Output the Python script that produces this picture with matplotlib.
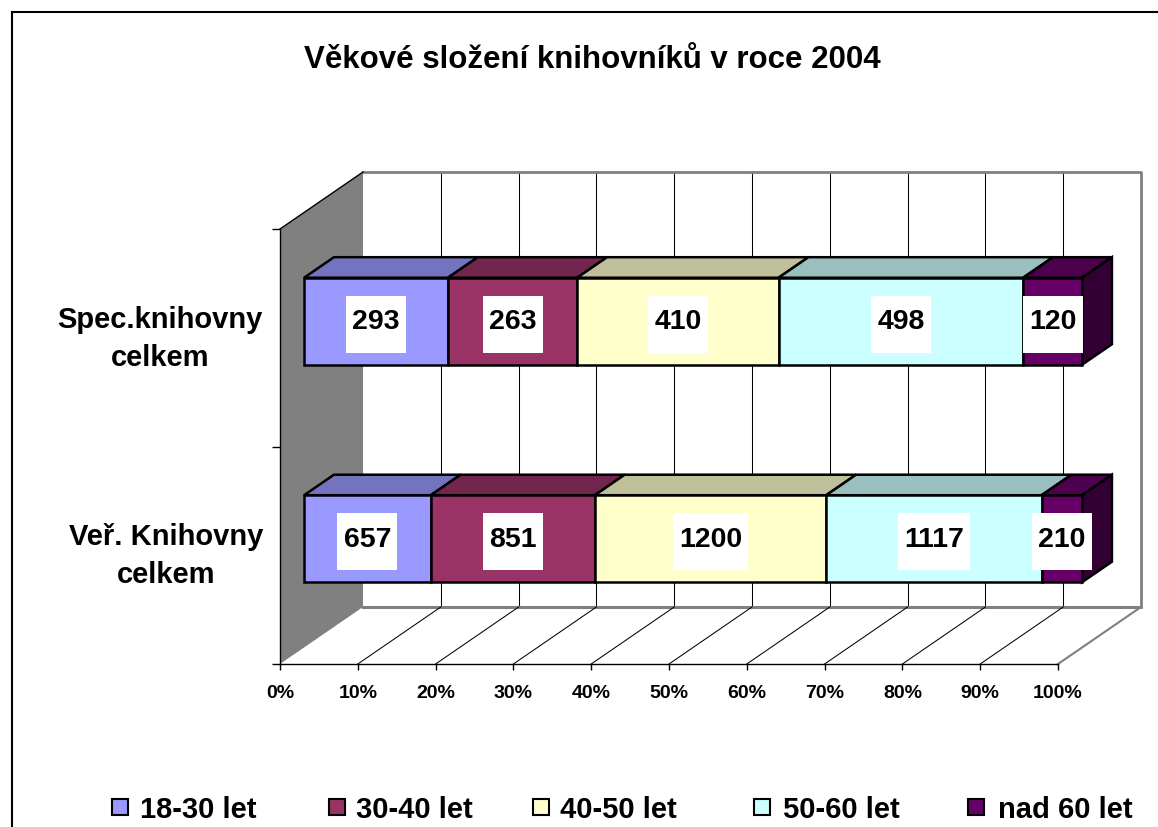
import numpy as np
import matplotlib
matplotlib.use("Agg")
import matplotlib.pyplot as plt
from matplotlib.colors import to_rgb
from matplotlib.patches import Polygon, Rectangle
from matplotlib.path import Path
from matplotlib.lines import Line2D

# data
title = "Věkové složení knihovníků v roce 2004"
categories = ["Veř. Knihovny\ncelkem", "Spec.knihovny\ncelkem"]
age_groups = ["18-30 let", "30-40 let", "40-50 let", "50-60 let", "nad 60 let"]
ver_values = [657, 851, 1200, 1117, 210]
spec_values = [293, 263, 410, 498, 120]
x_ticks = list(range(0, 101, 10))
x_tick_labels = [f"{t}%" for t in x_ticks]

front_colors = ["#9999FF", "#993366", "#FFFFCC", "#CCFFFF", "#660066"]

plt.rcParams["font.family"] = ["Liberation Sans", "DejaVu Sans"]
plt.rcParams["font.weight"] = "bold"

W, H = 1158, 828
PX_PCT = 7.78      # pixels per percent on the front plane
PX_CAT = 217.5     # pixels per category band
DX = 83 / PX_PCT   # depth shift (percent units)
DY = 57 / PX_CAT   # depth shift (category units)
D0, D1 = 0.29, 0.65  # bar depth range
BAR_H = 0.4


def fx(px):
    return px / W


def fy(py):
    return 1 - py / H


def shade(c, f):
    return tuple(np.array(to_rgb(c)) * f)


def proj(x, y, d):
    return (x + d * DX, y + d * DY)


def label_box(x0, y0, width, height, mutation_size):
    """White box: small side padding, fixed height."""
    padx = 0.22 * mutation_size
    half = 1.0 * mutation_size
    cy = y0 + height / 2 - 0.1 * mutation_size
    verts = [(x0 - padx, cy - half), (x0 + width + padx, cy - half),
             (x0 + width + padx, cy + half), (x0 - padx, cy + half),
             (x0 - padx, cy - half)]
    return Path(verts, closed=True)


fig = plt.figure(figsize=(W / 100, H / 100), dpi=100)
ax = fig.add_axes([fx(280), fy(665), (100 + DX) * PX_PCT / W, (2 + DY) * PX_CAT / H])
ax.set_xlim(0, 100 + DX)
ax.set_ylim(0, 2 + DY)
ax.set_facecolor("white")

for s in ["top", "right"]:
    ax.spines[s].set_visible(False)
ax.spines["bottom"].set_bounds(0, 100)
ax.spines["left"].set_bounds(0, 2)
ax.spines["bottom"].set_linewidth(1.0)
ax.spines["left"].set_linewidth(1.0)

# left wall
ax.add_patch(Polygon([(0, 0), (DX, DY), (DX, 2 + DY), (0, 2)], closed=True,
                     fc="#808080", ec="none", zorder=1, clip_on=False))
ax.plot([0, DX], [2, 2 + DY], color="black", lw=1.0, zorder=2, clip_on=False)

# back wall grid and border
for p in x_ticks[1:-1]:
    ax.plot([p + DX, p + DX], [DY, 2 + DY], color="black", lw=0.75, zorder=1)
ax.plot([DX, 100 + DX, 100 + DX], [2 + DY, 2 + DY, DY], color="#808080", lw=2.0,
        zorder=1, clip_on=False)
ax.plot([DX, 100 + DX], [DY, DY], color="#808080", lw=2.2, zorder=1)

# floor lines
for p in x_ticks[1:]:
    ax.plot([p, p + DX], [0, DY], color="black" if p < 100 else "#808080",
            lw=0.75 if p < 100 else 1.5, zorder=1, clip_on=False)

# bars
for i, vals in enumerate([ver_values, spec_values]):
    vals = np.array(vals, dtype=float)
    pct = vals / vals.sum() * 100
    left = np.concatenate([[0], np.cumsum(pct)[:-1]])
    c = i + 0.5
    top_y = c + BAR_H / 2
    bot_y = c - BAR_H / 2
    for l, w, col in zip(left, pct, front_colors):
        ax.add_patch(Polygon([proj(l, top_y, D0), proj(l + w, top_y, D0),
                              proj(l + w, top_y, D1), proj(l, top_y, D1)],
                             closed=True, fc=shade(col, 0.75), ec="black", lw=1.8,
                             zorder=3, clip_on=False))
    end = left[-1] + pct[-1]
    ax.add_patch(Polygon([proj(end, bot_y, D0), proj(end, top_y, D0),
                          proj(end, top_y, D1), proj(end, bot_y, D1)],
                         closed=True, fc=shade(front_colors[-1], 0.5), ec="black",
                         lw=1.8, zorder=3, clip_on=False))
    ax.barh(c + D0 * DY, pct, left=left + D0 * DX, height=BAR_H, color=front_colors,
            edgecolor="black", linewidth=1.8, zorder=4)
    for l, w, v in zip(left, pct, vals):
        ax.text(l + w / 2 + D0 * DX, c + D0 * DY, f"{int(v)}", ha="center", va="center",
                fontsize=20.5, fontweight="bold", zorder=6,
                bbox=dict(boxstyle=label_box, fc="white", ec="none"))

# category labels, left of the front-left edge
for i, cat in enumerate(categories):
    ax.annotate(cat, xy=(0, i + 0.5), xycoords="data", xytext=(-17, 0),
                textcoords="offset pixels", ha="right", va="center",
                multialignment="center", linespacing=1.45, fontsize=21,
                fontweight="bold", annotation_clip=False)

# axes ticks
ax.set_xticks(x_ticks)
ax.set_xticklabels(x_tick_labels, fontsize=14, fontweight="bold")
ax.tick_params(axis="x", length=4.3, width=1.0, pad=10)
ax.set_yticks([0, 1, 2])
ax.set_yticklabels([])
ax.tick_params(axis="y", which="major", length=5.8, width=1.0)

# title
fig.text(fx(592), fy(68.5), title, ha="center", va="baseline", fontsize=22.5,
         fontweight="bold")

# legend
legend_sq_x = [112, 329, 533, 754, 968]
legend_txt_x = [140, 356, 560, 783, 998]
for sx, tx, lab, col in zip(legend_sq_x, legend_txt_x, age_groups, front_colors):
    fig.add_artist(Rectangle((fx(sx), fy(816)), 16 / W, 16 / H, transform=fig.transFigure,
                             fc=col, ec="black", lw=1.5))
    fig.text(fx(tx), fy(818), lab, ha="left", va="baseline", fontsize=21,
             fontweight="bold")

# outer frame (left and top edges visible)
fig.add_artist(Line2D([fx(11.5), fx(11.5)], [fy(13), 0], transform=fig.transFigure,
                      color="black", lw=1.5))
fig.add_artist(Line2D([fx(11.5), 1], [fy(13), fy(13)], transform=fig.transFigure,
                      color="black", lw=1.5))

fig.savefig("out.png", dpi=100)
